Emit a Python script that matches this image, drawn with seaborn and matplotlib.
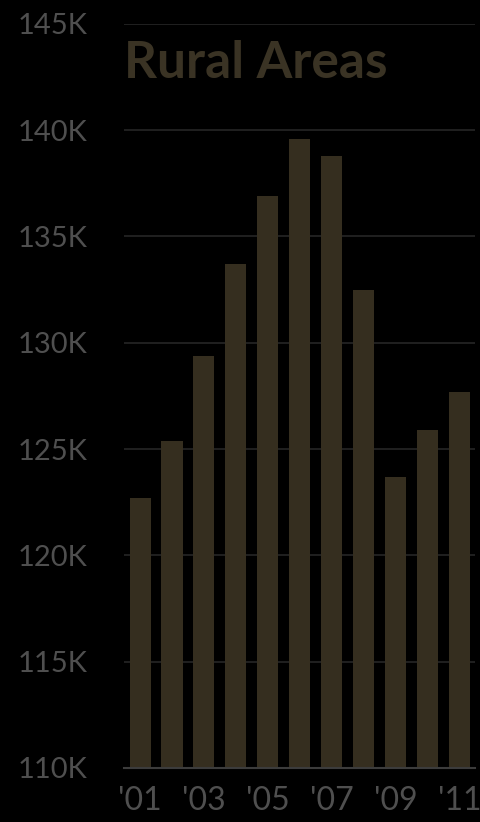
import matplotlib
matplotlib.use("Agg")
import matplotlib.pyplot as plt
import seaborn as sns
import pandas as pd

# values
years = ["'01", "'02", "'03", "'04", "'05", "'06", "'07", "'08", "'09", "'10", "'11"]
counts = [122.7, 125.4, 129.4, 133.7, 136.9, 139.6, 138.8, 132.5, 123.7, 125.9, 127.7]
y_ticks = [110, 115, 120, 125, 130, 135, 140, 145]
y_labels = [f"{t}K" for t in y_ticks]
shown_years = ["'01", "'03", "'05", "'07", "'09", "'11"]

BAR = "#352e1f"
TEXT = "#4f4f4f"

sns.set_style("dark")
plt.rcParams["font.family"] = ["Lato", "DejaVu Sans"]

df = pd.DataFrame({"year": years, "count": counts})

fig = plt.figure(figsize=(4.81, 8.22), dpi=100, facecolor="black")
ax = fig.add_axes([0.258, 0.0657, 0.730, 0.9053])
ax.set_facecolor("black")

sns.barplot(data=df, x="year", y="count", color=BAR, saturation=1,
            width=0.66, edgecolor=BAR, linewidth=0, ax=ax)

ax.set_ylim(110, 145)
ax.set_yticks(y_ticks)
ax.set_yticklabels(y_labels)
ax.set_xticks([years.index(y) for y in shown_years])
ax.set_xticklabels(shown_years)
ax.set_xlim(-0.5, len(years) - 0.5)

ax.grid(axis="y", color="#262626", linewidth=1.2)
ax.grid(axis="x", visible=False)
ax.set_axisbelow(True)
for side in ["top", "right", "left"]:
    ax.spines[side].set_visible(False)
ax.spines["bottom"].set_color("#3c3c3c")
ax.spines["bottom"].set_linewidth(1.5)

ax.tick_params(axis="y", length=0, pad=26, labelsize=21, labelcolor=TEXT)
ax.tick_params(axis="x", length=0, pad=13, labelsize=23, labelcolor=TEXT)
ax.set_xlabel("")
ax.set_ylabel("")

ax.text(0.0, 0.978, "Rural Areas", transform=ax.transAxes, ha="left", va="top",
        fontsize=37, fontweight="bold", color="#3a3324")

fig.savefig("out.png", dpi=100, facecolor="black")
